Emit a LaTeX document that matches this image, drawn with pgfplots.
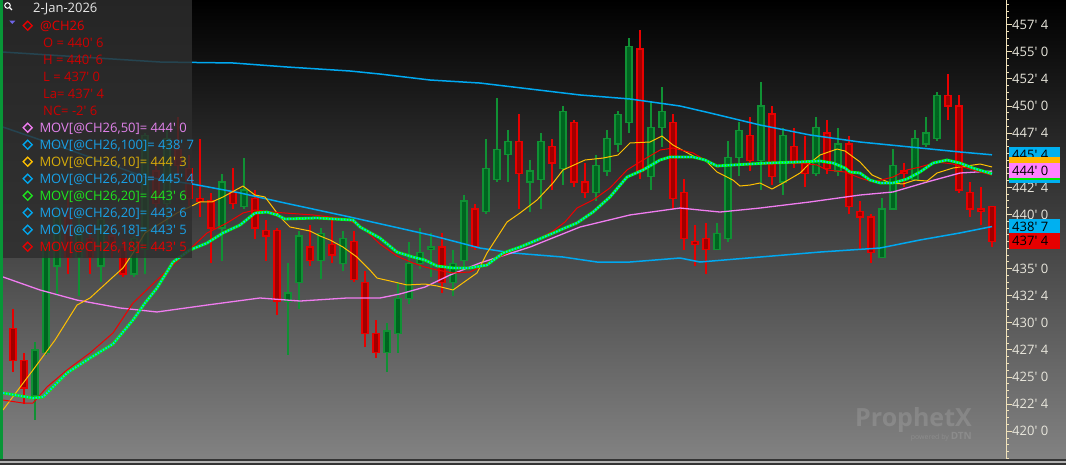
\documentclass[border=0pt]{standalone}
\usepackage{fontspec}
\setmainfont{Open Sans}
\usepackage{pgfplots}
\pgfplotsset{compat=1.18}
\usepackage{pgfplotstable}

\definecolor{bgbot}{RGB}{130,130,130}
\definecolor{legbg}{RGB}{46,46,46}
\definecolor{axcol}{RGB}{240,226,186}
\definecolor{lblcol}{RGB}{232,230,220}
\definecolor{rfill}{RGB}{160,0,0}
\definecolor{rline}{RGB}{232,0,0}
\definecolor{gfill}{RGB}{0,100,32}
\definecolor{gline}{RGB}{16,145,52}
\definecolor{mablue}{RGB}{0,168,240}
\definecolor{mapink}{RGB}{240,124,240}
\definecolor{magold}{RGB}{255,192,0}
\definecolor{magreen}{RGB}{0,255,0}
\definecolor{macyan}{RGB}{0,200,255}
\definecolor{mared}{RGB}{240,0,0}
\definecolor{txtred}{RGB}{205,0,0}
\definecolor{txtpink}{RGB}{225,130,235}
\definecolor{txtblue}{RGB}{25,160,230}
\definecolor{txtgold}{RGB}{215,172,10}
\definecolor{txtgreen}{RGB}{30,230,30}
\definecolor{txtdate}{RGB}{230,230,230}
\definecolor{tri}{RGB}{110,100,230}
\definecolor{tagblue}{RGB}{0,176,240}
\definecolor{tagorange}{RGB}{255,180,0}
\definecolor{tagpink}{RGB}{255,128,255}
\definecolor{taggreen}{RGB}{0,230,0}
\definecolor{tagred}{RGB}{230,0,0}
\definecolor{leftbar}{RGB}{8,150,55}

\newcommand{\fs}{\fontsize{13}{15}\selectfont}
\newcommand{\tq}{\textquotesingle\ }

\pgfplotstableread{
k O H L C
0 429.5 431.25 425.5 426.5
1 426.5 427.25 422.5 424.0
2 423.25 428.25 421.0 427.5
3 427.25 437.75 427.0 437.25
4 435.25 440.75 432.5 440.0
5 439.75 441.5 434.5 436.0
6 436.0 440.0 432.5 438.5
7 437.75 439.0 434.5 436.0
8 435.25 440.5 433.75 439.5
9 438.0 439.0 436.0 437.25
10 437.0 437.75 434.25 434.5
11 434.5 438.0 434.25 437.75
12 436.75 447.5 434.5 447.25
13 444.0 445.0 440.0 441.0
14 441.0 447.75 439.0 447.0
15 446.0 449.0 443.5 444.5
16 444.25 445.5 440.75 441.5
17 441.5 447.0 439.75 441.25
18 441.25 442.0 435.5 438.75
19 438.75 443.75 435.75 443.0
20 442.0 444.25 440.5 441.0
21 440.75 445.25 440.5 442.25
22 441.5 442.25 437.75 438.75
23 438.5 439.5 435.75 438.0
24 438.5 438.75 430.75 432.0
25 432.0 435.5 427.0 432.75
26 433.75 438.5 431.25 438.0
27 437.0 439.0 435.25 435.75
28 435.75 438.75 434.0 438.25
29 437.25 439.75 435.5 436.25
30 435.5 438.5 434.75 437.75
31 437.5 438.5 433.75 434.0
32 433.75 434.75 427.75 429.0
33 429.0 430.25 426.75 427.25
34 427.25 430.0 425.5 429.25
35 429.0 433.75 427.25 432.25
36 432.25 437.5 431.75 435.5
37 435.5 438.75 435.0 436.5
38 436.75 438.25 434.25 437.0
39 437.0 438.25 432.75 433.75
40 433.75 436.75 432.5 435.5
41 435.75 441.75 435.0 441.25
42 440.5 441.0 436.75 437.0
43 440.25 447.0 440.0 444.25
44 443.25 450.75 443.0 446.0
45 445.5 447.75 443.0 446.75
46 446.75 449.25 440.5 443.75
47 443.0 445.0 440.25 444.0
48 443.25 447.5 440.5 446.75
49 446.25 447.0 442.25 444.75
50 444.25 450.0 442.75 449.5
51 448.5 448.75 442.5 443.0
52 443.0 444.75 441.5 442.0
53 442.0 445.5 441.25 444.5
54 444.0 447.75 443.5 447.0
55 446.5 449.5 445.75 449.25
56 448.5 456.25 447.5 455.5
57 455.25 457.0 443.25 444.0
58 443.5 450.5 442.25 448.0
59 448.0 451.75 446.25 449.5
60 448.5 449.25 440.5 441.5
61 442.0 443.25 436.75 437.75
62 437.5 439.0 435.25 437.25
63 437.75 439.25 434.5 436.75
64 436.75 439.25 436.75 438.25
65 437.75 446.75 437.5 445.25
66 445.25 448.5 443.5 447.75
67 447.25 449.0 444.0 445.0
68 445.0 452.25 442.25 450.0
69 449.25 450.0 442.75 443.5
70 443.0 448.0 441.75 447.25
71 446.25 448.0 444.25 444.75
72 444.75 447.25 442.5 443.75
73 443.75 449.0 443.5 448.0
74 447.5 448.75 443.75 444.25
75 444.0 448.0 443.5 446.5
76 446.5 447.25 440.0 440.75
77 440.25 441.25 436.75 439.75
78 439.75 440.0 435.5 436.5
79 436.0 441.5 436.0 440.5
80 440.5 446.0 440.5 444.5
81 444.0 444.75 442.5 443.75
82 443.25 447.75 443.25 447.0
83 446.5 449.0 446.25 447.5
84 447.0 451.25 446.75 451.0
85 451.0 453.0 448.75 450.0
86 450.0 451.0 442.0 442.25
87 442.0 443.0 439.75 440.5
88 440.5 442.5 439.0 440.25
89 440.75 440.75 437.0 437.5
}\candles

\pgfplotstableread{
i p
-0.91 454.98
13.36 454.06
20.00 453.97
24.91 453.60
30.64 453.23
33.36 452.95
37.91 452.40
42.45 452.12
47.00 451.57
51.55 451.02
56.09 450.65
60.64 450.00
63.36 449.36
67.91 448.25
72.45 447.33
77.00 446.68
81.55 446.22
86.09 445.76
89.00 445.50
}\maCC

\pgfplotstableread{
i p
-0.91 448.06
5.18 445.94
12.00 443.45
16.27 442.81
20.64 441.98
24.73 441.05
30.64 439.76
37.91 438.10
42.45 436.90
45.45 436.44
50.00 436.07
53.09 435.61
56.09 435.61
60.64 435.98
62.45 435.61
67.91 436.07
73.36 436.53
78.82 436.90
82.45 437.64
86.09 438.29
89.00 438.88
}\maC

\pgfplotstableread{
i p
-0.91 434.23
2.45 433.03
5.82 432.10
9.73 431.37
13.09 431.00
17.64 431.64
22.45 432.29
26.09 432.01
30.36 432.29
33.36 432.29
35.18 432.66
37.45 433.30
39.73 434.41
42.45 435.52
47.00 436.99
51.55 438.84
56.09 439.95
60.64 440.59
64.27 440.22
67.91 440.59
72.45 441.15
77.00 441.79
80.00 442.07
83.09 442.99
86.09 443.82
89.00 444.00
}\maL

\pgfplotstableread{
i p
-0.91 421.96
1.82 425.65
3.82 428.41
5.82 431.64
7.00 432.29
9.09 434.23
10.00 435.06
10.91 436.44
12.00 438.29
14.91 440.13
17.00 441.15
18.09 441.15
19.09 441.61
20.91 442.62
22.00 441.79
22.91 441.61
24.00 440.13
24.55 439.48
25.18 438.84
27.00 438.47
27.91 438.01
28.82 437.64
30.00 436.99
31.27 436.07
32.45 434.87
33.09 434.13
34.27 433.86
35.82 433.49
37.45 433.58
38.55 433.40
40.00 433.03
42.18 434.60
43.09 436.44
44.91 439.30
46.09 440.13
47.64 441.33
49.09 442.90
50.00 444.10
52.00 445.02
53.64 445.20
55.00 445.48
56.09 446.59
57.91 446.68
59.00 447.23
60.00 446.40
62.00 445.30
62.91 445.02
64.00 443.91
65.45 443.17
66.09 442.62
67.00 442.71
67.91 442.90
69.00 442.34
70.00 442.90
71.55 443.82
72.45 444.74
73.36 445.48
74.91 446.03
75.64 445.85
77.00 444.84
78.09 443.64
79.73 442.90
80.91 442.81
82.00 443.17
83.09 443.08
84.00 443.82
85.45 444.28
87.91 444.65
89.00 444.38
}\maX

\pgfplotstableread{
i p
-0.91 423.53
1.82 423.06
2.73 423.16
4.91 425.37
7.00 426.75
9.09 428.05
10.91 430.26
12.00 431.83
13.09 433.21
14.55 435.61
16.09 436.72
17.64 437.36
19.09 438.29
20.64 439.02
22.00 440.13
23.09 440.22
24.00 439.95
24.73 439.58
27.64 439.67
30.91 439.48
31.55 438.84
33.36 437.82
34.91 436.53
36.36 436.07
37.45 435.79
38.55 435.24
40.00 435.06
41.55 435.06
43.09 435.33
44.55 436.44
46.09 436.99
47.64 437.64
50.18 438.75
51.27 439.21
52.73 440.22
54.27 441.61
55.82 443.45
57.27 444.10
58.82 445.02
59.73 445.30
61.82 445.30
62.91 445.02
64.00 444.47
65.45 444.56
68.55 444.74
71.55 444.84
73.36 444.93
74.55 444.74
75.64 444.28
76.09 443.91
77.00 443.82
77.91 443.17
78.82 442.90
80.00 442.90
81.27 443.27
82.45 443.91
83.64 444.74
84.91 445.02
86.09 444.74
87.27 444.28
89.00 443.75
}\maXX

\pgfplotstableread{
i p
-0.91 422.88
0.91 422.60
1.82 422.60
3.09 424.08
4.91 425.65
7.00 427.22
9.09 429.06
10.91 431.83
13.09 433.95
14.55 435.33
17.64 438.29
19.45 439.21
20.91 440.13
22.00 440.41
23.64 440.22
24.73 440.13
27.27 439.95
28.82 439.76
30.36 439.58
31.82 438.75
33.36 437.27
34.91 436.16
36.36 435.52
37.45 435.15
38.55 434.87
40.00 434.60
41.55 434.69
42.45 435.15
43.64 435.79
46.09 436.99
47.64 437.64
49.09 438.47
50.18 439.30
51.27 440.59
52.73 441.33
54.27 442.44
55.82 444.10
57.27 445.02
58.82 445.94
60.00 446.13
61.82 445.67
62.91 445.02
64.00 444.37
65.45 444.56
68.55 444.65
71.55 444.74
73.09 444.56
74.00 444.10
75.64 443.91
77.00 443.36
78.18 442.99
80.00 443.45
81.27 444.10
82.45 444.37
84.00 444.84
85.45 444.65
87.27 444.10
89.00 443.63
}\maXVIII

\pgfplotsset{
  candle/.style n args={3}{only marks, mark=*, mark size=0pt,
    mark options={draw=none, fill=none},
    restrict expr to domain={#1}{#2},
    error bars/.cd, y dir=both, y explicit, error mark=none,
    error bar style={#3}},
}

\begin{document}
\begin{tikzpicture}[x=1pt,y=1pt]
\path[use as bounding box] (0,0) rectangle (1066,465);
\shade[top color=black, bottom color=bgbot] (0,6) rectangle (1066,465);
\fill[black!80] (0,0) rectangle (1066,6);
\fill[black!30] (0,1.8) rectangle (1066,4);

\begin{axis}[
  at={(3pt,6pt)}, anchor=south west,
  scale only axis, width=1003pt, height=459pt,
  xmin=-0.909, xmax=90.273, ymin=417.438, ymax=459.781,
  axis x line=none,
  axis y line*=right,
  y axis line style={draw=axcol, line width=1pt},
  ytick={420,422.5,...,457.5},
  yticklabels={420\tq0,422\tq4,425\tq0,427\tq4,430\tq0,432\tq4,435\tq0,{},440\tq0,442\tq4,{},447\tq4,450\tq0,452\tq4,455\tq0,457\tq4},
  minor ytick={417.5,418.125,...,459.4},
  tick align=outside,
  major tick length=6pt, minor tick length=3pt,
  every tick/.style={draw=axcol, line width=0.9pt},
  yticklabel style={font=\fs, text=lblcol, anchor=west, inner sep=0pt},
]
% wicks
\addplot[candle={\thisrow{C}-\thisrow{O}}{0:100}{draw=gline, line width=1.1pt}]
  table[x=k, y expr={(\thisrow{H}+\thisrow{L})/2}, y error expr={(\thisrow{H}-\thisrow{L})/2}] {\candles};
\addplot[candle={\thisrow{O}-\thisrow{C}}{0.001:100}{draw=rline, line width=1.1pt}]
  table[x=k, y expr={(\thisrow{H}+\thisrow{L})/2}, y error expr={(\thisrow{H}-\thisrow{L})/2}] {\candles};
% bodies outline
\addplot[candle={\thisrow{C}-\thisrow{O}}{0:100}{draw=gline, line width=7.4pt}]
  table[x=k, y expr={(\thisrow{O}+\thisrow{C})/2}, y error expr={abs(\thisrow{C}-\thisrow{O})/2+0.06}] {\candles};
\addplot[candle={\thisrow{O}-\thisrow{C}}{0.001:100}{draw=rline, line width=7.4pt}]
  table[x=k, y expr={(\thisrow{O}+\thisrow{C})/2}, y error expr={abs(\thisrow{C}-\thisrow{O})/2+0.06}] {\candles};
% bodies fill
\addplot[candle={\thisrow{C}-\thisrow{O}}{0:100}{draw=gfill, line width=4.8pt}]
  table[x=k, y expr={(\thisrow{O}+\thisrow{C})/2}, y error expr={max(abs(\thisrow{C}-\thisrow{O})/2-0.06,0)}] {\candles};
\addplot[candle={\thisrow{O}-\thisrow{C}}{0.001:100}{draw=rfill, line width=4.8pt}]
  table[x=k, y expr={(\thisrow{O}+\thisrow{C})/2}, y error expr={max(abs(\thisrow{C}-\thisrow{O})/2-0.06,0)}] {\candles};
% moving averages
\addplot[mablue, line width=1.5pt, mark=none, line join=round] table[x=i,y=p] {\maCC};
\addplot[mablue, line width=1.5pt, mark=none, line join=round] table[x=i,y=p] {\maC};
\addplot[mapink, line width=1.3pt, mark=none, line join=round] table[x=i,y=p] {\maL};
\addplot[magold, line width=1pt, mark=none, line join=round] table[x=i,y=p] {\maX};
\addplot[mared, line width=1pt, mark=none, line join=round] table[x=i,y=p] {\maXVIII};
\addplot[magreen, line width=2.8pt, mark=none, line join=round] table[x=i,y=p] {\maXX};
\addplot[macyan, line width=1.8pt, mark=none, line join=round, dash pattern=on 1.5pt off 1.5pt] table[x=i,y=p] {\maXX};
\end{axis}

% watermark
\node[text=white, text opacity=0.13, font=\bfseries\fontsize{25}{25}\selectfont, anchor=base west, inner sep=0pt] at (855,38) {ProphetX};
\node[text=white, text opacity=0.13, font=\fontsize{7}{8}\selectfont, anchor=base east, inner sep=0pt] at (972,25) {powered by \textbf{\fontsize{10}{10}\selectfont DTN}};

% legend overlay
\fill[legbg, fill opacity=0.82] (0,207) rectangle (192,465);
\fill[leftbar] (0,6) rectangle (3,465);
% magnifier
\draw[white, line width=1pt] (7.5,459.5) circle (2.8);
\draw[white, line width=1.2pt] (9.5,457.5) -- (12,455);
\node[anchor=base west, inner sep=0pt, text=txtdate, font=\fs] at (33,452) {2-Jan-2026};
\fill[tri] (9.3,444.3) -- (15.3,444.3) -- (12.3,441) -- cycle;
\draw[rline, line width=1.3pt, shift={(27.7,439.3)}] (-4.5,0) -- (0,4.5) -- (4.5,0) -- (0,-4.5) -- cycle;
\node[anchor=base west, inner sep=0pt, text=rline, font=\fs] at (40,434.7) {@CH26};
\node[anchor=base west, inner sep=0pt, text=txtred, font=\fs] at (43,417.7) {O = 440\tq6};
\node[anchor=base west, inner sep=0pt, text=txtred, font=\fs] at (43,400.7) {H = 440\tq6};
\node[anchor=base west, inner sep=0pt, text=txtred, font=\fs] at (43,383.7) {L = 437\tq0};
\node[anchor=base west, inner sep=0pt, text=txtred, font=\fs] at (43,366.7) {La= 437\tq4};
\node[anchor=base west, inner sep=0pt, text=txtred, font=\fs] at (43,349.7) {NC= -2\tq6};
\draw[mapink, line width=1.3pt, shift={(27.7,337.3)}] (-4.5,0) -- (0,4.5) -- (4.5,0) -- (0,-4.5) -- cycle;
\node[anchor=base west, inner sep=0pt, text=txtpink, font=\fs] at (39.3,332.7) {MOV[@CH26,50]= 444\tq0};
\draw[mablue, line width=1.3pt, shift={(27.7,320.3)}] (-4.5,0) -- (0,4.5) -- (4.5,0) -- (0,-4.5) -- cycle;
\node[anchor=base west, inner sep=0pt, text=txtblue, font=\fs] at (39.3,315.7) {MOV[@CH26,100]= 438\tq7};
\draw[magold, line width=1.3pt, shift={(27.7,303.3)}] (-4.5,0) -- (0,4.5) -- (4.5,0) -- (0,-4.5) -- cycle;
\node[anchor=base west, inner sep=0pt, text=txtgold, font=\fs] at (39.3,298.7) {MOV[@CH26,10]= 444\tq3};
\draw[mablue, line width=1.3pt, shift={(27.7,286.3)}] (-4.5,0) -- (0,4.5) -- (4.5,0) -- (0,-4.5) -- cycle;
\node[anchor=base west, inner sep=0pt, text=txtblue, font=\fs] at (39.3,281.7) {MOV[@CH26,200]= 445\tq4};
\draw[txtgreen, line width=1.3pt, shift={(27.7,269.3)}] (-4.5,0) -- (0,4.5) -- (4.5,0) -- (0,-4.5) -- cycle;
\node[anchor=base west, inner sep=0pt, text=txtgreen, font=\fs] at (39.3,264.7) {MOV[@CH26,20]= 443\tq6};
\draw[mablue, line width=1.3pt, shift={(27.7,252.3)}] (-4.5,0) -- (0,4.5) -- (4.5,0) -- (0,-4.5) -- cycle;
\node[anchor=base west, inner sep=0pt, text=txtblue, font=\fs] at (39.3,247.7) {MOV[@CH26,20]= 443\tq6};
\draw[mablue, line width=1.3pt, shift={(27.7,235.3)}] (-4.5,0) -- (0,4.5) -- (4.5,0) -- (0,-4.5) -- cycle;
\node[anchor=base west, inner sep=0pt, text=txtblue, font=\fs] at (39.3,230.7) {MOV[@CH26,18]= 443\tq5};
\draw[rline, line width=1.3pt, shift={(27.7,218.3)}] (-4.5,0) -- (0,4.5) -- (4.5,0) -- (0,-4.5) -- cycle;
\node[anchor=base west, inner sep=0pt, text=rline, font=\fs] at (39.3,213.7) {MOV[@CH26,18]= 443\tq5};

% value tags on the price axis
\fill[tagblue] (1009,303.3) rectangle (1060,318.3);
\node[anchor=base west, inner sep=0pt, text=black, font=\fs] at (1012,305.9) {445\tq4};
\fill[tagorange] (1009,292.7) rectangle (1060,307.7);
\fill[tagblue] (1009,282) rectangle (1060,297);
\fill[taggreen] (1009,284.5) rectangle (1060,299.5);
\fill[tagpink] (1009,286.7) rectangle (1060,301.7);
\node[anchor=base west, inner sep=0pt, text=black, font=\fs] at (1012,289.6) {444\tq0};
\fill[tagblue] (1009,231) rectangle (1060,246);
\node[anchor=base west, inner sep=0pt, text=black, font=\fs] at (1012,233.9) {438\tq7};
\fill[tagred] (1009,215.7) rectangle (1060,231.7);
\node[anchor=base west, inner sep=0pt, text=black, font=\fs] at (1012,219.1) {437\tq4};
\end{tikzpicture}
\end{document}
